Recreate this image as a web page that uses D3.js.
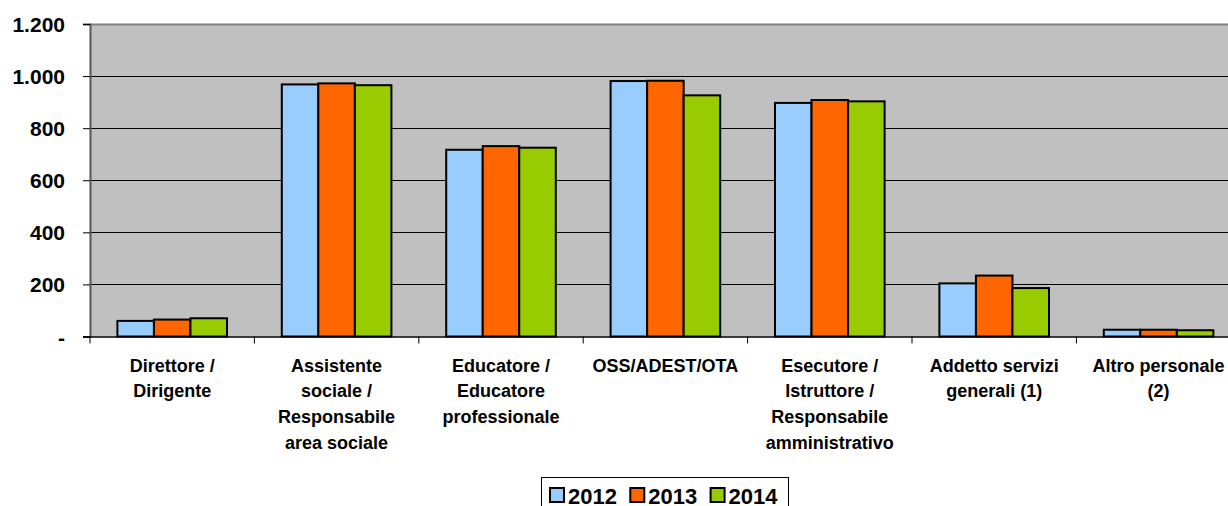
<!DOCTYPE html>
<html><head><meta charset="utf-8">
<script src="https://cdn.jsdelivr.net/npm/d3@7"></script>
<style>
html,body{margin:0;padding:0;background:#fff;}
svg{display:block;font-family:"Liberation Sans",Arial,sans-serif;font-weight:bold;}
</style></head>
<body>
<svg id="chart" width="1228" height="506"></svg>
<script>
const categories = [
  ["Direttore /","Dirigente"],
  ["Assistente","sociale /","Responsabile","area sociale"],
  ["Educatore /","Educatore","professionale"],
  ["OSS/ADEST/OTA"],
  ["Esecutore /","Istruttore /","Responsabile","amministrativo"],
  ["Addetto servizi","generali (1)"],
  ["Altro personale","(2)"]
];
const seriesNames = ["2012","2013","2014"];
const values2012 = [60, 968, 717, 981, 897, 204, 26];
const values2013 = [65, 972, 731, 982, 908, 234, 26];
const values2014 = [70, 965, 725, 926, 903, 186, 24];
const yTicks = [0, 200, 400, 600, 800, 1000, 1200];
const colors = ["#99CCFF", "#FF6600", "#99CC00"];

const seriesValues = [values2012, values2013, values2014];
const svg = d3.select("#chart");
const pLeft = 90, pTop = 24, pBottom = 336.5, catW = 164.4;
const pRight = pLeft + catW * categories.length;

const x = d3.scaleBand().domain(d3.range(categories.length)).range([pLeft, pRight]).paddingInner(0).paddingOuter(0);
const xs = d3.scaleBand().domain(d3.range(3)).range([0, x.bandwidth()]).paddingInner(0).paddingOuter(0.75);
const y = d3.scaleLinear().domain([0, 1200]).range([pBottom, pTop]);
const loc = d3.formatLocale({decimal: ",", thousands: ".", grouping: [3], currency: ["€",""]});
const fmt = v => v === 0 ? "-" : loc.format(",")(v);

// plot background
svg.append("rect").attr("x", pLeft).attr("y", pTop).attr("width", pRight - pLeft).attr("height", pBottom - pTop).attr("fill", "#C0C0C0");

// gridlines
svg.append("g").selectAll("line").data(yTicks.filter(t => t > 0 && t < 1200)).join("line")
  .attr("x1", pLeft).attr("x2", pRight).attr("y1", d => Math.round(y(d)) + 0.5).attr("y2", d => Math.round(y(d)) + 0.5)
  .attr("stroke", "#000").attr("stroke-width", 1);
// top border
svg.append("line").attr("x1", pLeft).attr("x2", pRight).attr("y1", pTop + 0.5).attr("y2", pTop + 0.5)
  .attr("stroke", "#808080").attr("stroke-width", 2);

// bars
const g = svg.append("g");
categories.forEach((c, i) => {
  seriesValues.forEach((vals, s) => {
    g.append("rect")
      .attr("x", x(i) + xs(s)).attr("y", y(vals[i]))
      .attr("width", xs.bandwidth()).attr("height", y(0) - y(vals[i]))
      .attr("fill", colors[s]).attr("stroke", "#000").attr("stroke-width", 2);
  });
});

// y axis
const yAxis = d3.axisLeft(y).tickValues(yTicks).tickFormat(fmt).tickSize(7).tickPadding(18);
const ya = svg.append("g").attr("transform", `translate(${pLeft},0)`).call(yAxis);
ya.select(".domain").attr("stroke", "#555").attr("stroke-width", 2);
ya.selectAll(".tick line").attr("stroke", "#000");
ya.selectAll(".tick text").attr("font-size", 21).attr("font-family", "Liberation Sans, Arial, sans-serif").attr("font-weight", "bold").attr("fill", "#000").attr("dy", "0.36em");

// x axis line + ticks
svg.append("line").attr("x1", pLeft - 7).attr("x2", pRight).attr("y1", pBottom + 0.5).attr("y2", pBottom + 0.5).attr("stroke", "#000").attr("stroke-width", 1.5);
svg.append("g").selectAll("line").data(d3.range(categories.length + 1)).join("line")
  .attr("x1", d => pLeft + d * x.step()).attr("x2", d => pLeft + d * x.step())
  .attr("y1", pBottom).attr("y2", pBottom + 7).attr("stroke", "#000").attr("stroke-width", 1);

// category labels
const lab = svg.append("g").attr("font-size", 18).attr("text-anchor", "middle").attr("fill", "#000");
categories.forEach((lines, i) => {
  const t = lab.append("text").attr("x", x(i) + x.bandwidth() / 2).attr("y", 371.5);
  lines.forEach((ln, k) => t.append("tspan").attr("x", x(i) + x.bandwidth() / 2).attr("dy", k === 0 ? 0 : 25.7).text(ln));
});

// legend
const lg = svg.append("g");
lg.append("rect").attr("x", 541.5).attr("y", 477.5).attr("width", 247).attr("height", 40).attr("fill", "#fff").attr("stroke", "#000").attr("stroke-width", 1);
seriesNames.forEach((n, s) => {
  const ex = 550 + s * 80.3;
  lg.append("rect").attr("x", ex).attr("y", 488).attr("width", 14).attr("height", 14).attr("fill", colors[s]).attr("stroke", "#000").attr("stroke-width", 2);
  lg.append("text").attr("x", ex + 18).attr("y", 503.5).attr("font-size", 22).attr("fill", "#000").text(n);
});
</script>
</body></html>
